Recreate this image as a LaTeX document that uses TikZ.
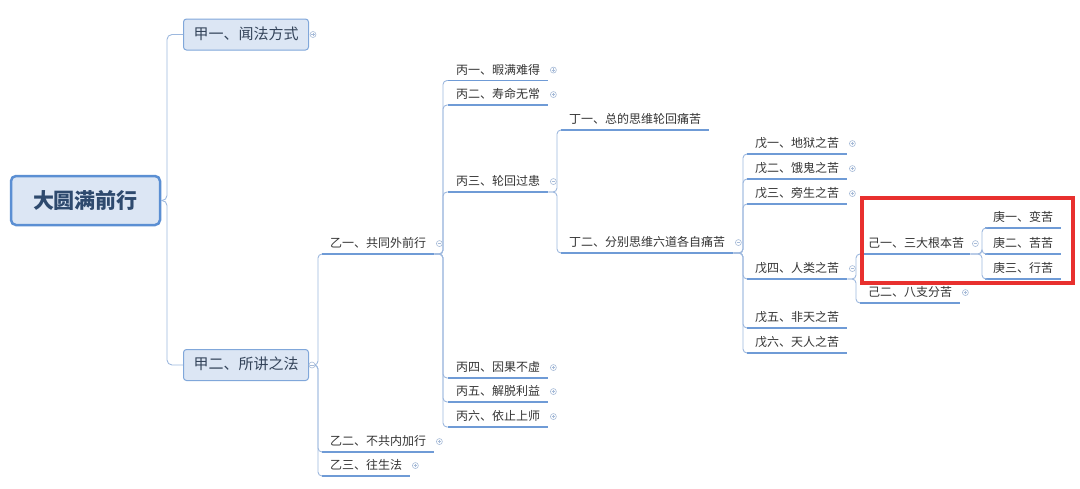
\documentclass[tikz,border=0pt]{standalone}
\usepackage{fontspec}
\setmainfont{Noto Sans CJK SC}
\definecolor{linec}{HTML}{9DB8DE}
\definecolor{ulc}{HTML}{6F9BD6}
\definecolor{boxf}{HTML}{DCE6F4}
\definecolor{boxb}{HTML}{80A7DA}
\definecolor{rootb}{HTML}{5B8FD3}
\definecolor{roott}{HTML}{2E4A6E}
\definecolor{mtxt}{HTML}{34445A}
\definecolor{txt}{HTML}{333333}
\definecolor{mkc}{HTML}{A7BBD8}
\definecolor{redb}{HTML}{E8302E}
\begin{document}
\begin{tikzpicture}[x=1pt,y=-1pt,
  conn/.style={draw=linec, line width=0.9pt, rounded corners=4pt},
  uline/.style={draw=ulc, line width=1.3pt},
  topic/.style={anchor=south west, inner xsep=8pt, inner ysep=2.5pt, text height=10pt, text depth=3.5pt,
    font=\fontsize{12}{14}\selectfont, text=txt,
    append after command={(\tikzlastnode.south west) edge[uline] (\tikzlastnode.south east)}},
  mbox/.style={draw=boxb, fill=boxf, rounded corners=3pt, line width=1pt, inner xsep=10pt, inner ysep=0pt,
    minimum height=31pt, text height=12pt, text depth=3pt, font=\fontsize{15}{18}\selectfont, text=mtxt, anchor=west},
  rootbox/.style={draw=rootb, fill=boxf, rounded corners=5pt, line width=2.5pt, minimum width=149pt,
    minimum height=49pt, font=\fontsize{21}{24}\selectfont\bfseries, text=roott},
  mk/.style={circle, draw=mkc, fill=white, inner sep=0pt, minimum size=6pt, line width=0.6pt},
  plusmk/.style={mk, path picture={\draw[mkc, line width=0.6pt]
      ([xshift=-1.7pt]path picture bounding box.center) -- ([xshift=1.7pt]path picture bounding box.center)
      ([yshift=-1.7pt]path picture bounding box.center) -- ([yshift=1.7pt]path picture bounding box.center);}},
  minusmk/.style={mk, path picture={\draw[mkc, line width=0.6pt]
      ([xshift=-1.7pt]path picture bounding box.center) -- ([xshift=1.7pt]path picture bounding box.center);}}
]
\useasboundingbox (0,0) rectangle (1080,488);

% root and level 1
\node[rootbox] (root) at (85.5,200.5) {大圆满前行};
\node[mbox] (j1) at (183,34.5) {甲一、闻法方式};
\node[mbox] (j2) at (183,365) {甲二、所讲之法};

% level 2
\node[topic] (y1) at (322,254) {乙一、共同外前行};
\node[topic] (y2) at (322,452) {乙二、不共内加行};
\node[topic] (y3) at (322,476) {乙三、往生法};

% level 3
\node[topic] (b1) at (448,80.5) {丙一、暇满难得};
\node[topic] (b2) at (448,105) {丙二、寿命无常};
\node[topic] (b3) at (448,192) {丙三、轮回过患};
\node[topic] (b4) at (448,378) {丙四、因果不虚};
\node[topic] (b5) at (448,402) {丙五、解脱利益};
\node[topic] (b6) at (448,427) {丙六、依止上师};

% level 4
\node[topic] (d1) at (561,130) {丁一、总的思维轮回痛苦};
\node[topic] (d2) at (561,253) {丁二、分别思维六道各自痛苦};

% level 5
\node[topic] (w1) at (747,154) {戊一、地狱之苦};
\node[topic] (w2) at (747,179) {戊二、饿鬼之苦};
\node[topic] (w3) at (747,204) {戊三、旁生之苦};
\node[topic] (w4) at (747,279) {戊四、人类之苦};
\node[topic] (w5) at (747,328) {戊五、非天之苦};
\node[topic] (w6) at (747,353) {戊六、天人之苦};

% level 6
\node[topic, text width=94pt] (g1) at (860,254) {己一、三大根本苦};
\node[topic] (g2) at (860,303) {己二、八支分苦};

% level 7
\node[topic] (k1) at (985,228) {庚一、变苦};
\node[topic] (k2) at (985,254) {庚二、苦苦};
\node[topic] (k3) at (985,279) {庚三、行苦};

% connectors
\foreach \c in {j1,j2}
  \draw[conn, rounded corners=5pt] (root.east) -| ([xshift=-16pt]\c.west) -- (\c.west);
\foreach \c in {y1,y2,y3}
  \draw[conn] (j2.east) -| ([xshift=-4pt]\c.south west) -- (\c.south west);
\foreach \c in {b1,b2,b3,b4,b5,b6}
  \draw[conn] (y1.south east) -| ([xshift=-5pt]\c.south west) -- (\c.south west);
\foreach \c in {d1,d2}
  \draw[conn] (b3.south east) -| ([xshift=-4pt]\c.south west) -- (\c.south west);
\foreach \c in {w1,w2,w3,w4,w5,w6}
  \draw[conn] (d2.south east) -| ([xshift=-4pt]\c.south west) -- (\c.south west);
\foreach \c in {g1,g2}
  \draw[conn] (w4.south east) -| ([xshift=-4pt]\c.south west) -- (\c.south west);
\foreach \c in {k1,k2,k3}
  \draw[conn] (g1.south east) -| ([xshift=-3pt]\c.south west) -- (\c.south west);

% collapse / expand markers
\node[plusmk] (mj1) at ([xshift=4pt]j1.east) {};
\node[minusmk] (mj2) at ([xshift=3pt]j2.east) {};
\foreach \n in {y2,y3,b1,b2,b4,b5,b6,w1,w2,w3,g2}
  \node[plusmk] (m\n) at ([xshift=5pt,yshift=1pt]\n.east) {};
\foreach \n in {y1,b3,d2,w4,g1}
  \node[minusmk] (m\n) at ([xshift=5pt,yshift=1pt]\n.east) {};

% highlight frame
\draw[redb, line width=4.5pt] (862,198) rectangle (1073,283);
\end{tikzpicture}
\end{document}
